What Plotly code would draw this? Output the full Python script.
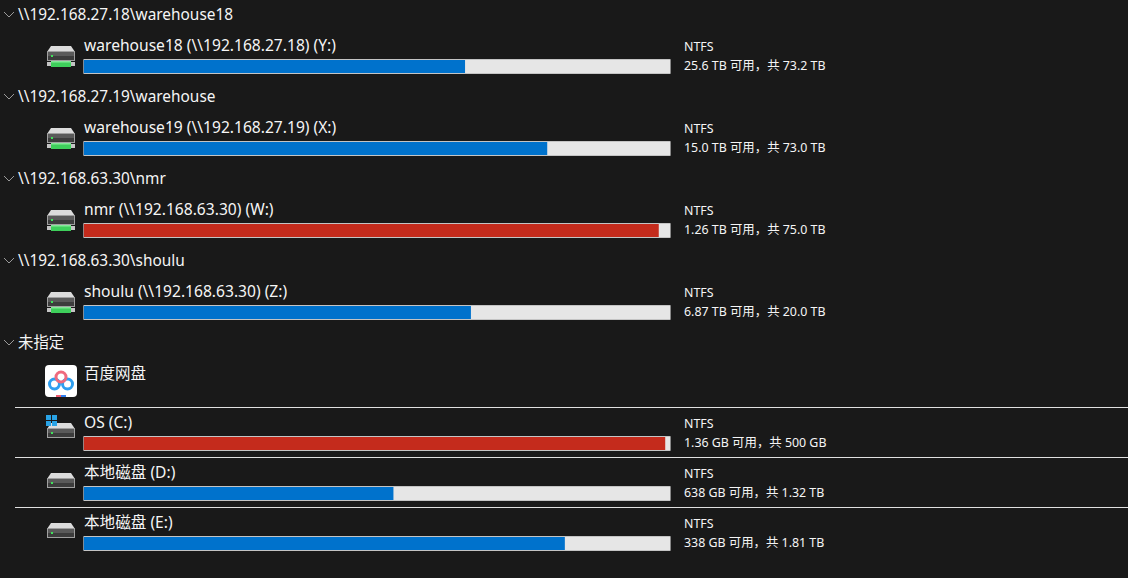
import plotly.graph_objects as go

# group headers
group_names = ['\\\\192.168.27.18\\warehouse18', '\\\\192.168.27.19\\warehouse',
               '\\\\192.168.63.30\\nmr', '\\\\192.168.63.30\\shoulu', '未指定']

# drives
drive_names = ['warehouse18 (\\\\192.168.27.18) (Y:)', 'warehouse19 (\\\\192.168.27.19) (X:)',
               'nmr (\\\\192.168.63.30) (W:)', 'shoulu (\\\\192.168.63.30) (Z:)',
               'OS (C:)', '本地磁盘 (D:)', '本地磁盘 (E:)']
used_pct = [65.0, 79.0, 98.0, 66.0, 99.1, 52.8, 82.0]
free_text = ['25.6 TB 可用，共 73.2 TB', '15.0 TB 可用，共 73.0 TB', '1.26 TB 可用，共 75.0 TB',
             '6.87 TB 可用，共 20.0 TB', '1.36 GB 可用，共 500 GB', '638 GB 可用，共 1.32 TB',
             '338 GB 可用，共 1.81 TB']
file_system = ['NTFS', 'NTFS', 'NTFS', 'NTFS', 'NTFS', 'NTFS', 'NTFS']
full_pct = [100, 100, 100, 100, 100, 100, 100]

# layout of the window, in pixels
W, H = 1128, 578
BG = '#191919'
TXT = '#f5f5f5'
FONT = 'Noto Sans, Noto Sans CJK SC, sans-serif'
group_y = [14, 96, 178, 260, 342]
bar_y = [66.5, 148.5, 230.5, 312.5, 443.5, 493.5, 543.5]
network = [True, True, True, True, False, False, False]
sep_y = [407.5, 457.5, 507.5]


def bar_color(p):
    return '#c42b1c' if p > 90 else '#0072cc'


def label(x, y, text, size):
    return dict(x=x, y=y, xref='x2', yref='y', text=text, showarrow=False, xanchor='left',
                yanchor='middle', align='left', font=dict(family=FONT, size=size, color=TXT))


def poly(points, fill):
    path = 'M ' + ' L '.join('%g %g' % p for p in points) + ' Z'
    return dict(type='path', path=path, xref='x2', yref='y', fillcolor=fill, layer='above',
                line=dict(width=0))


def rect(x0, y0, x1, y1, fill):
    return dict(type='rect', x0=x0, y0=y0, x1=x1, y1=y1, xref='x2', yref='y', fillcolor=fill,
                layer='above', line=dict(width=0))


def circle(cx, cy, r, color, width=3):
    return dict(type='circle', x0=cx - r, y0=cy - r, x1=cx + r, y1=cy + r, xref='x2', yref='y',
                fillcolor='rgba(0,0,0,0)', layer='above', line=dict(width=width, color=color))


def drive_icon(y, net):
    '''hard disk glyph, y is the middle of the usage bar'''
    top = int(y) - 20
    shapes = [
        poly([(47, top + 6), (51, top), (71, top), (75, top + 6)], '#dcdcdc'),
        rect(47, top + 5, 75, top + 15, '#a0a0a0'),
        rect(48, top + 6, 74, top + 10, '#5a5a5a'),
        rect(48, top + 10, 74, top + 14, '#3c3c3c'),
        rect(51, top + 9, 53, top + 11, '#3fe05a'),
    ]
    if net:
        shapes += [rect(47, top + 16, 75, top + 20, '#c4c4c4'),
                   rect(51, top + 15, 71, top + 21, '#3ecf5b'),
                   rect(51, top + 15, 71, top + 16.5, '#86e89a')]
    return shapes


fig = go.Figure()
fig.add_trace(go.Bar(y=bar_y, x=full_pct, orientation='h', width=14, showlegend=False,
                     marker=dict(color='#e6e6e6', line=dict(width=0))))
fig.add_trace(go.Bar(y=bar_y, x=used_pct, orientation='h', width=14, showlegend=False,
                     marker=dict(color=[bar_color(p) for p in used_pct], line=dict(width=0))))
# outline sits on top of the fill
fig.add_trace(go.Bar(y=bar_y, x=full_pct, orientation='h', width=14, showlegend=False,
                     marker=dict(color='rgba(0,0,0,0)', line=dict(color='#c4c4c4', width=1))))

annotations = []
shapes = []
for name, y in zip(group_names, group_y):
    annotations.append(label(16, y, name, 15.4))
    shapes.append(dict(type='path', path='M 4 %g L 9 %g L 14 %g' % (y - 2, y + 3, y - 2),
                       xref='x2', yref='y', layer='above', line=dict(color='#9a9a9a', width=1)))

for i, y in enumerate(bar_y):
    annotations.append(label(82, y - 21.5, drive_names[i], 15.6))
    annotations.append(label(682, y - 20.5, file_system[i], 12.4))
    annotations.append(label(682, y - 1.5, free_text[i], 12.4))
    shapes += drive_icon(y, network[i])

# baidu netdisk entry
annotations.append(label(82, 373, '百度网盘', 15.5))
shapes.append(dict(type='path', xref='x2', yref='y', fillcolor='#ffffff', layer='above', line=dict(width=0),
                   path='M 49 365 L 73 365 Q 77 365 77 369 L 77 393 Q 77 397 73 397 '
                        'L 49 397 Q 45 397 45 393 L 45 369 Q 45 365 49 365 Z'))
shapes += [circle(54.5, 384, 5, '#2f9ff0'), circle(67.5, 384, 5, '#2f9ff0'),
           circle(61, 377, 5, '#ef6a7e'), rect(56, 395, 61, 397, '#ef5a6e'),
           rect(61, 395, 66, 397, '#2f7ff0')]

# windows logo on the system drive
for x0, y0 in [(46, 415), (52, 415), (46, 421), (52, 421)]:
    shapes.append(rect(x0, y0, x0 + 5, y0 + 5, '#29a3e6'))

for y in sep_y:
    shapes.append(dict(type='line', x0=15, x1=W, y0=y, y1=y, xref='x2', yref='y', layer='above',
                       line=dict(color='#e0e0e0', width=1)))

fig.update_layout(
    width=W, height=H, margin=dict(l=0, r=0, t=0, b=0),
    paper_bgcolor=BG, plot_bgcolor='rgba(0,0,0,0)', barmode='overlay', showlegend=False,
    xaxis=dict(domain=[83.5 / W, 670.5 / W], range=[0, 100], visible=False, anchor='y', fixedrange=True),
    xaxis2=dict(domain=[0, 1], range=[0, W], visible=False, anchor='y', fixedrange=True),
    yaxis=dict(domain=[0, 1], range=[H, 0], visible=False, fixedrange=True),
    annotations=annotations, shapes=shapes,
)
fig.write_html('out.html', config=dict(displayModeBar=False),
               post_script="document.body.style.margin='0';document.body.style.background='%s';" % BG)
